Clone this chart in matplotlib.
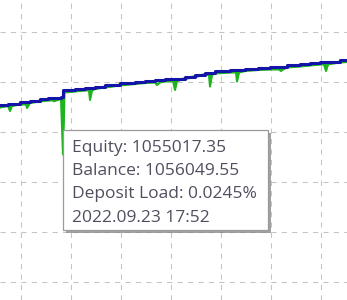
import matplotlib
matplotlib.use("Agg")
import matplotlib.pyplot as plt
from matplotlib.patches import Rectangle
import numpy as np

# time axis (bar index) and the two curves
t = [0, 8, 10, 12, 20, 26, 27, 29, 30, 40, 48, 53, 54, 56, 61, 63, 64.5,
     75, 85, 89, 90, 92, 95, 105, 120, 135, 145, 155, 157, 160, 165, 173,
     175, 177, 185, 195, 205, 209, 210, 212, 215, 230, 236, 237, 239, 245,
     258, 270, 279, 281, 283, 287, 300, 310, 320, 324, 326, 328, 330, 340, 347]

balance = [1055809, 1055833, 1055833, 1055833, 1055857, 1055857, 1055857, 1055857,
           1055881, 1055905, 1055921, 1055921, 1055921, 1055921, 1055945, 1056049.55, 1056049.55,
           1056065, 1056081, 1056081, 1056081, 1056081, 1056105, 1056129, 1056161, 1056185,
           1056201, 1056209, 1056209, 1056209, 1056225, 1056233, 1056233, 1056233, 1056265,
           1056297, 1056329, 1056329, 1056329, 1056329, 1056353, 1056369, 1056369, 1056369,
           1056369, 1056393, 1056409, 1056417, 1056417, 1056417, 1056417, 1056449, 1056465,
           1056481, 1056497, 1056497, 1056497, 1056497, 1056505, 1056529, 1056537]

equity = [1055769, 1055793, 1055713, 1055793, 1055817, 1055817, 1055761, 1055817,
          1055841, 1055865, 1055881, 1055881, 1055869, 1055881, 1055905, 1055017.35, 1056009,
          1056025, 1056041, 1056041, 1055889, 1056041, 1056065, 1056089, 1056121, 1056145,
          1056161, 1056169, 1056129, 1056169, 1056185, 1056193, 1056049, 1056193, 1056225,
          1056257, 1056289, 1056289, 1056105, 1056289, 1056313, 1056329, 1056329, 1056185,
          1056329, 1056353, 1056369, 1056377, 1056377, 1056353, 1056377, 1056409, 1056425,
          1056441, 1056457, 1056457, 1056353, 1056457, 1056465, 1056489, 1056497]

tooltip_lines = ["Equity: 1055017.35", "Balance: 1056049.55",
                 "Deposit Load: 0.0245%", "2022.09.23 17:52"]

W, H = 347, 300
fig = plt.figure(figsize=(W / 100, H / 100), dpi=100)
ax = fig.add_axes([0, 0, 1, 1])

def vy(py):
    return 1057489 - 16 * py

ax.set_xlim(0, W)
ax.set_ylim(vy(H), vy(0))
ax.set_xticks(np.arange(21, W, 50))
ax.set_yticks([vy(p) for p in range(32, H, 50)])
ax.grid(True, color="#c4c4c4", linewidth=0.75, linestyle=(0, (5, 5)))
ax.tick_params(length=0, labelbottom=False, labelleft=False)
for s in ax.spines.values():
    s.set_visible(False)

green = "#1db41d"
blue = "#1414a8"
ax.fill_between(t, equity, balance, color=green, linewidth=0)
ax.plot(t, equity, color=green, linewidth=1.5)
ax.plot(t, balance, drawstyle="steps-post", color=blue, linewidth=2.2)

# tooltip box (figure pixels)
def fx(px):
    return px / W

def fy(py):
    return 1 - py / H

bx0, by0, bx1, by1 = 63, 130, 268, 230
shadow = Rectangle((fx(bx0 + 3), fy(by1 + 3)), fx(bx1 - bx0), (by1 - by0) / H,
                   transform=fig.transFigure, facecolor="#8a8a8a", edgecolor="none",
                   alpha=0.8, zorder=5)
box = Rectangle((fx(bx0), fy(by1)), fx(bx1 - bx0), (by1 - by0) / H,
                transform=fig.transFigure, facecolor="white", edgecolor="#9a9a9a",
                linewidth=0.9, zorder=6)
fig.patches.extend([shadow, box])

for i, line in enumerate(tooltip_lines):
    fig.text(fx(72), fy(151.7 + 23.3 * i), line, fontsize=12.5, family="Open Sans",
             color="#4f4f5f", va="baseline", ha="left", zorder=7)

fig.savefig("out.png", dpi=100)
